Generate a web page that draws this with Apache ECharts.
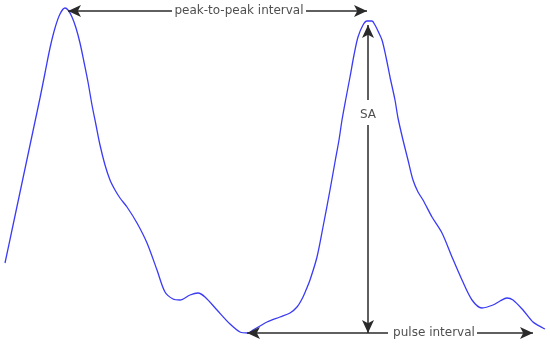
<!DOCTYPE html>
<html><head><meta charset="utf-8">
<script src="https://cdn.jsdelivr.net/npm/echarts@6/dist/echarts.min.js"></script>
<style>html,body{margin:0;padding:0;background:#fff}#c{width:550px;height:344px}</style>
</head><body><div id="c"></div>
<script>
// Pulse waveform samples: time (sample index) and amplitude
const time = [5,12,19,26,33,40,45,50,55,60,65,68,72,76,80,84,88,92,96,100,105,110,115,120,127,137,147,157,165,173,180,190,198,205,217,230,240,248,253,260,267,280,290,297,302,306,310,317,323,330,335,339,342,346,350,354,358,363,367,372,375,378,382,386,390,395,398,403,408,413,418,423,432,442,452,462,472,482,493,500,507,513,523,533,543,545];
const amplitude = [81,114,147,180,213,246,271,296,316,330,336,334,327,316,301,282,262,239,219,199,179,164,154,146,137,121,101,74,52,45,44,49,51,47,34,20,12,11,14,18,22,27,31,37,45,54,64,87,117,154,182,204,224,246,267,289,307,319,323,323,319,313,304,287,267,244,226,204,184,164,152,144,127,111,87,64,44,36,39,43,46,44,34,22,16,15];

// Annotation anchors (time, amplitude)
const peak1 = [68, 333];
const peak2 = [368, 321];
const trough = [247, 11];
const pulseEnd = [533, 11];
const labels = ["peak-to-peak interval", "SA", "pulse interval"];
const labelPos = [[239, 333], [368, 229], [434, 11]];

const arrowColor = '#2a2a2a';
function seg(a, b, symA, symB) {
  return [{coord: a, symbol: symA}, {coord: b, symbol: symB}];
}
const chart = echarts.init(document.getElementById('c'));
chart.setOption({
  animation: false,
  grid: {left: 0, right: 0, top: 0, bottom: 0},
  xAxis: {type: 'value', min: 0, max: 550, show: false},
  yAxis: {type: 'value', min: 0, max: 344, show: false},
  series: [
    {
      type: 'line',
      data: time.map((t, i) => [t, amplitude[i]]),
      smooth: 0.3,
      showSymbol: false,
      lineStyle: {color: '#3b3bf5', width: 1.3},
      markLine: {
        silent: true,
        symbolSize: [9, 13],
        lineStyle: {color: arrowColor, width: 1.5, type: 'solid'},
        label: {show: false},
        data: [
          seg(peak1, [172, peak1[1]], 'arrow', 'none'),
          seg([306, peak1[1]], [peak2[0] - 1, peak1[1]], 'none', 'arrow'),
          seg([peak2[0], 244], [peak2[0], peak2[1] - 2], 'none', 'arrow'),
          seg([peak2[0], 219], [peak2[0], trough[1]], 'none', 'arrow'),
          seg(trough, [388, trough[1]], 'arrow', 'none'),
          seg([477, trough[1]], pulseEnd, 'none', 'arrow')
        ]
      }
    },
    {
      type: 'scatter',
      symbolSize: 0,
      silent: true,
      data: labels.map((s, i) => ({value: labelPos[i], name: s})),
      label: {
        show: true, position: 'inside',
        formatter: p => p.name,
        color: '#222', fontFamily: 'DejaVu Sans', fontSize: 12
      }
    }
  ]
});
</script></body></html>
